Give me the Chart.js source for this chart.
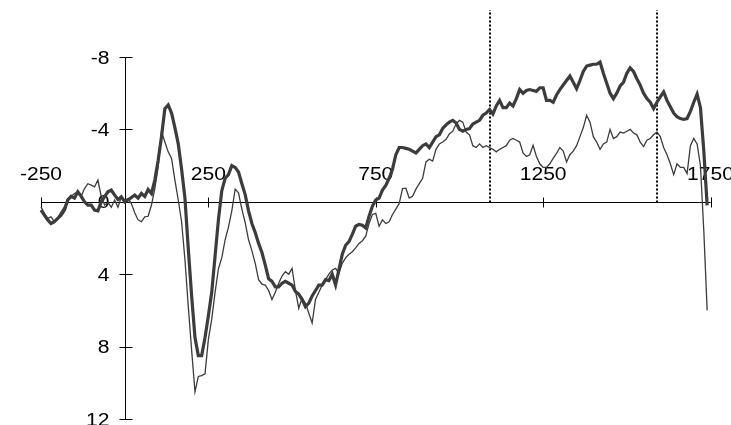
<!DOCTYPE html>
<html>
<head>
<meta charset="utf-8">
<script src="https://cdn.jsdelivr.net/npm/chart.js@4.4.1/dist/chart.umd.min.js"></script>
<style>
  html, body { margin: 0; padding: 0; background: #fff; }
  #wrap { width: 731px; height: 425px; }
</style>
</head>
<body>
<div id="wrap"><canvas id="erp" width="731" height="425"></canvas></div>
<script>
// time in ms, one sample every 10 ms
const times = [
  -250, -240, -230, -220, -210, -200, -190, -180, -170, -160,
  -150, -140, -130, -120, -110, -100, -90, -80, -70, -60,
  -50, -40, -30, -20, -10, 0, 10, 20, 30, 40,
  50, 60, 70, 80, 90, 100, 110, 120, 130, 140,
  150, 160, 170, 180, 190, 200, 210, 220, 230, 240,
  250, 260, 270, 280, 290, 300, 310, 320, 330, 340,
  350, 360, 370, 380, 390, 400, 410, 420, 430, 440,
  450, 460, 470, 480, 490, 500, 510, 520, 530, 540,
  550, 560, 570, 580, 590, 600, 610, 620, 630, 640,
  650, 660, 670, 680, 690, 700, 710, 720, 730, 740,
  750, 760, 770, 780, 790, 800, 810, 820, 830, 840,
  850, 860, 870, 880, 890, 900, 910, 920, 930, 940,
  950, 960, 970, 980, 990, 1000, 1010, 1020, 1030, 1040,
  1050, 1060, 1070, 1080, 1090, 1100, 1110, 1120, 1130, 1140,
  1150, 1160, 1170, 1180, 1190, 1200, 1210, 1220, 1230, 1240,
  1250, 1260, 1270, 1280, 1290, 1300, 1310, 1320, 1330, 1340,
  1350, 1360, 1370, 1380, 1390, 1400, 1410, 1420, 1430, 1440,
  1450, 1460, 1470, 1480, 1490, 1500, 1510, 1520, 1530, 1540,
  1550, 1560, 1570, 1580, 1590, 1600, 1610, 1620, 1630, 1640,
  1650, 1660, 1670, 1680, 1690, 1700, 1710, 1720, 1730, 1740
];

// thick trace
const thickWave = [
  0.46, 0.74, 1.0, 1.2, 1.1, 0.92, 0.74, 0.46, -0.1, -0.3,
  -0.2, -0.55, -0.3, 0, 0.18, 0.18, 0.46, 0.5, 0, -0.28,
  -0.55, -0.65, -0.37, -0.13, -0.28, 0, -0.1, -0.24, -0.37, -0.2,
  -0.46, -0.3, -0.68, -0.46, -1.2, -2.3, -3.6, -5.15, -5.35, -4.9,
  -4.1, -3.2, -1.8, -0.2, 2.6, 5.2, 7.5, 8.5, 8.5, 7.5,
  6.3, 5.0, 3.0, 1.0, -0.6, -1.3, -1.5, -2.0, -1.9, -1.65,
  -1.0, -0.4, 0.5, 1.2, 1.7, 2.3, 2.8, 3.5, 4.25, 4.4,
  4.7, 4.7, 4.5, 4.4, 4.5, 4.6, 4.95, 5.1, 5.4, 5.8,
  5.6, 5.2, 4.9, 4.6, 4.6, 4.3, 4.35, 4.0, 4.6, 3.75,
  2.9, 2.4, 2.2, 1.8, 1.35, 1.25, 1.3, 1.45, 0.8, 0.25,
  -0.1, -0.2, -0.65, -0.9, -1.3, -1.8, -2.6, -3.0, -3.0, -2.95,
  -2.9, -2.8, -2.7, -2.9, -3.1, -3.2, -3.0, -3.3, -3.6, -3.7,
  -4.05, -4.25, -4.4, -4.5, -4.35, -4.0, -3.9, -4.0, -4.04, -4.3,
  -4.4, -4.5, -4.78, -4.9, -5.1, -4.85, -5.3, -5.6, -5.2, -5.2,
  -5.45, -5.3, -5.7, -6.2, -6.0, -6.15, -6.2, -6.15, -6.1, -6.3,
  -6.3, -5.6, -5.6, -5.5, -5.9, -6.2, -6.45, -6.7, -6.95, -6.6,
  -6.25, -6.7, -7.2, -7.5, -7.55, -7.6, -7.6, -7.72, -7.1, -6.55,
  -6.0, -5.7, -6.0, -6.4, -6.6, -7.1, -7.4, -7.2, -6.8, -6.45,
  -6.0, -5.7, -5.5, -5.15, -5.5, -5.8, -6.07, -5.6, -5.25, -4.9,
  -4.7, -4.6, -4.55, -4.6, -5.0, -5.5, -5.95, -5.2, -2.8, 0.2
];

// thin trace
const thinWave = [
  0.28, 0.64, 0.92, 0.83, 1.1, 0.88, 0.55, 0.28, -0.18, -0.3,
  -0.46, -0.55, -0.3, -0.73, -1.0, -0.92, -0.83, -1.2, -0.28, 0.18,
  0.05, 0.3, -0.1, 0.3, -0.28, -0.1, -0.18, 0.1, 0.6, 1.0,
  1.1, 0.83, 0.8, 0.18, -0.73, -1.93, -3.9, -3.3, -2.76, -2.4,
  -1.2, -0.1, 1.1, 3.2, 5.8, 8.2, 10.5, 9.65, 9.6, 9.5,
  7.6, 6.5, 5.0, 3.7, 3.1, 2.1, 1.4, 0.5, -0.7, -0.5,
  0.4, 1.15, 2.1, 2.7, 3.4, 4.3, 4.55, 4.6, 4.9, 5.4,
  5.0, 4.5, 4.1, 3.86, 4.0, 3.68, 4.9, 5.88, 5.3, 5.6,
  6.16, 6.7, 5.4, 5.0, 4.6, 4.3, 4.0, 3.77, 3.68, 3.95,
  3.4, 3.1, 2.9, 2.76, 2.55, 2.3, 2.15, 1.9, 1.2, 0.7,
  0.64, 1.35, 1.0, 1.2, 1.1, 0.7, 0.4, 0.1, -0.73, -0.75,
  -0.2, -0.3, -0.7, -1.0, -1.3, -2.2, -2.35, -2.25, -2.9, -3.2,
  -3.3, -3.45, -3.75, -3.9, -4.3, -4.5, -4.4, -3.85, -3.7, -3.1,
  -3.0, -3.2, -3.0, -3.1, -3.0, -2.9, -2.76, -2.9, -3.0, -3.1,
  -3.4, -3.5, -3.4, -3.3, -2.7, -2.5, -2.6, -3.12, -2.5, -2.1,
  -1.9, -1.9, -2.1, -2.4, -2.67, -3.0, -2.8, -2.2, -2.6, -2.8,
  -3.1, -3.6, -4.1, -4.78, -4.4, -3.6, -3.3, -2.9, -3.2, -3.3,
  -4.0, -3.5, -3.6, -3.85, -3.8, -3.9, -4.0, -3.8, -3.7, -3.3,
  -3.05, -3.4, -3.5, -3.7, -3.86, -3.6, -3.0, -2.6, -2.1, -1.5,
  -2.1, -1.9, -1.9, -1.56, -3.1, -3.5, -3.2, -2.0, 1.6, 6.0
];

const xTicks = [-250, 250, 750, 1250, 1750];
const yTicks = [-8, -4, 0, 4, 8, 12];
const markers = [1090, 1590];   // dotted window lines
const markerTop = -10.6;

const FONT = '18px "Liberation Sans", Arial, sans-serif';
const STRETCH = 1.17;

function stretchedText(ctx, txt, px, py, align) {
  ctx.save();
  ctx.translate(px, py);
  ctx.scale(STRETCH, 1);
  ctx.textAlign = align;
  ctx.textBaseline = 'alphabetic';
  ctx.fillText(txt, 0, 0);
  ctx.restore();
}

const erpAxes = {
  id: 'erpAxes',
  beforeDatasetsDraw(chart) {
    const ctx = chart.ctx;
    const x = chart.scales.x, y = chart.scales.y;
    const x0 = Math.round(x.getPixelForValue(0)) + 0.5;
    const y0 = Math.round(y.getPixelForValue(0)) + 0.5;
    ctx.save();
    ctx.strokeStyle = '#000';
    ctx.fillStyle = '#000';
    ctx.lineWidth = 1;
    ctx.font = FONT;

    // x axis + ticks
    ctx.beginPath();
    ctx.moveTo(x.getPixelForValue(-250), y0);
    ctx.lineTo(x.getPixelForValue(1750), y0);
    xTicks.forEach(v => {
      const px = Math.round(x.getPixelForValue(v)) + 0.5;
      ctx.moveTo(px, y0 - 5);
      ctx.lineTo(px, y0 + 5);
    });
    // y axis + ticks
    ctx.moveTo(x0, y.getPixelForValue(-8));
    ctx.lineTo(x0, y.getPixelForValue(12));
    yTicks.forEach(v => {
      const py = Math.round(y.getPixelForValue(v)) + 0.5;
      ctx.moveTo(x0 - 6, py);
      ctx.lineTo(x0 + 7, py);
    });
    ctx.stroke();

    xTicks.forEach(v => {
      stretchedText(ctx, String(v), x.getPixelForValue(v), y0 - 22.5, 'center');
    });
    yTicks.forEach(v => {
      stretchedText(ctx, String(v), x0 - 16, y.getPixelForValue(v) + 6.6, 'right');
    });

    // dotted window markers
    ctx.lineWidth = 2;
    ctx.setLineDash([2, 2]);
    ctx.beginPath();
    markers.forEach(m => {
      const px = Math.round(x.getPixelForValue(m));
      ctx.moveTo(px, y0);
      ctx.lineTo(px, y.getPixelForValue(markerTop));
    });
    ctx.stroke();
    ctx.restore();
  }
};

const thickPts = times.map((t, i) => ({ x: t, y: thickWave[i] }));
const thinPts = times.map((t, i) => ({ x: t, y: thinWave[i] }));

new Chart(document.getElementById('erp'), {
  type: 'line',
  data: {
    datasets: [
      { data: thinPts, borderColor: '#3c3c3c', borderWidth: 1.3, pointRadius: 0, tension: 0, clip: false },
      { data: thickPts, borderColor: '#3c3c3c', borderWidth: 3.2, pointRadius: 0, tension: 0, clip: false }
    ]
  },
  options: {
    responsive: false,
    animation: false,
    layout: { padding: { left: 41, right: 20.5, top: 57, bottom: 6 } },
    plugins: { legend: { display: false }, tooltip: { enabled: false } },
    scales: {
      x: { type: 'linear', min: -250, max: 1750, display: false },
      y: { type: 'linear', min: -8, max: 12, reverse: true, display: false }
    }
  },
  plugins: [erpAxes]
});
</script>
</body>
</html>
